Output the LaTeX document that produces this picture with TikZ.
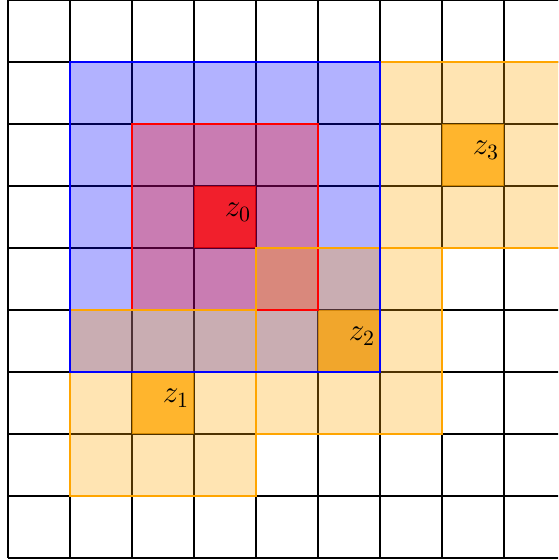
\documentclass[tikz,border=0pt]{standalone}
\definecolor{hoodorange}{RGB}{255,165,0}
\begin{document}
\begin{tikzpicture}[
    gridline/.style={line width=0.7pt, color=black},
    hood/.style={line width=1.3pt},
    zlabel/.style={anchor=east, inner sep=2pt, font=\Large}
  ]
    \useasboundingbox (-0.129,-0.032) rectangle (8.871,9);
    \clip (-0.129,-0.032) rectangle (8.871,9);
    \draw[gridline] (0,0) grid (9,9);
    % fills
    \fill[blue, opacity=0.3] (1,3) rectangle (6,8);
    \fill[red, opacity=0.3] (2,4) rectangle (5,7);
    \fill[red, opacity=0.75] (3,5) rectangle (4,6);
    \foreach \x/\y in {2/2, 5/3, 7/6} {
        \fill[hoodorange, opacity=0.3] (\x-1,\y-1) rectangle (\x+2,\y+2);
        \fill[hoodorange, opacity=0.75] (\x,\y) rectangle (\x+1,\y+1);
    }
    % borders
    \draw[hood, red] (2,4) rectangle (5,7);
    \foreach \x/\y in {2/2, 5/3, 7/6} {
        \draw[hood, hoodorange] (\x-1,\y-1) rectangle (\x+2,\y+2);
    }
    \draw[hood, blue] (1,3) rectangle (6,8);
    % labels
    \node[zlabel] (z0) at (4,5.58) {$z_0$};
    \node[zlabel] (z1) at (3,2.58) {$z_1$};
    \node[zlabel] (z2) at (6,3.58) {$z_2$};
    \node[zlabel] (z3) at (8,6.58) {$z_3$};
\end{tikzpicture}
\end{document}
